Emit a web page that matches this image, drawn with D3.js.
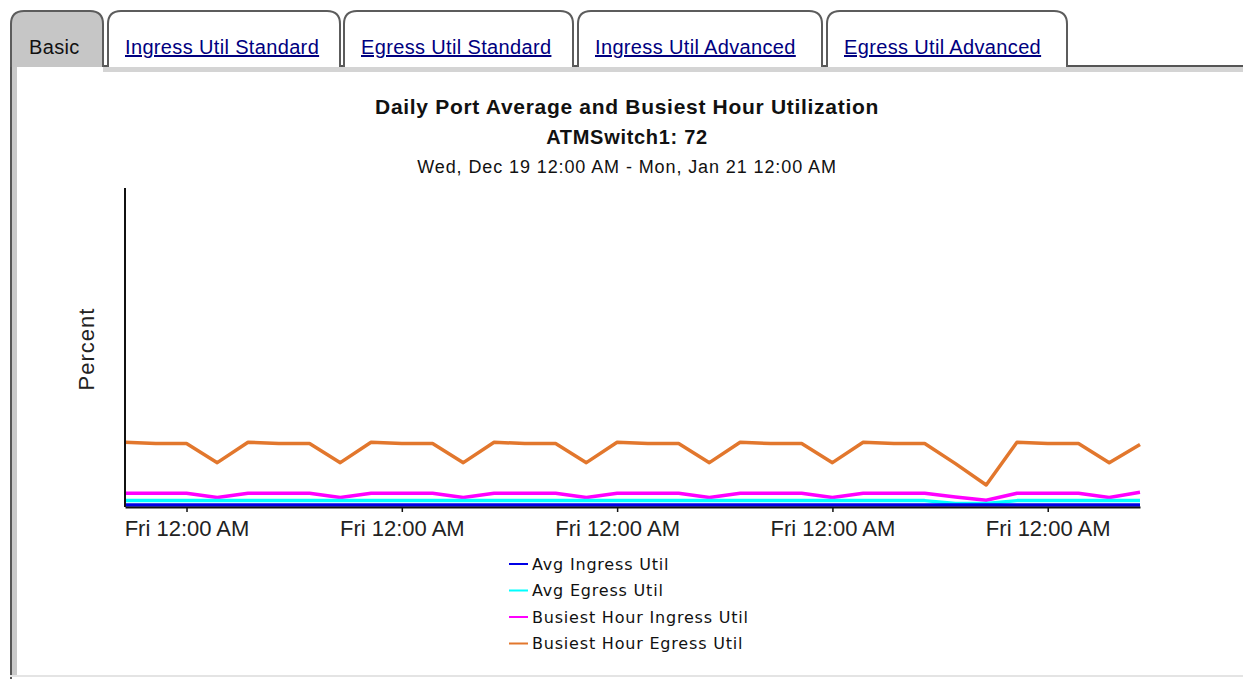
<!DOCTYPE html>
<html>
<head>
<meta charset="utf-8">
<script src="https://cdn.jsdelivr.net/npm/d3@7/dist/d3.min.js"></script>
<style>
  body { margin: 0; background: #fff; }
</style>
</head>
<body>
<svg id="chart" width="1243" height="679"></svg>
<script>

// ---- data ----
var tabNames = ["Basic", "Ingress Util Standard", "Egress Util Standard",
                "Ingress Util Advanced", "Egress Util Advanced"];

var days = ["2018-12-19","2018-12-20","2018-12-21","2018-12-22","2018-12-23",
            "2018-12-24","2018-12-25","2018-12-26","2018-12-27","2018-12-28",
            "2018-12-29","2018-12-30","2018-12-31","2019-01-01","2019-01-02",
            "2019-01-03","2019-01-04","2019-01-05","2019-01-06","2019-01-07",
            "2019-01-08","2019-01-09","2019-01-10","2019-01-11","2019-01-12",
            "2019-01-13","2019-01-14","2019-01-15","2019-01-16","2019-01-17",
            "2019-01-18","2019-01-19","2019-01-20","2019-01-21"];

var avgIngress = [0.06,0.06,0.06,0.06,0.06,0.06,0.06,0.06,0.06,0.06,
                  0.06,0.06,0.06,0.06,0.06,0.06,0.06,0.06,0.06,0.06,
                  0.06,0.06,0.06,0.06,0.06,0.06,0.06,0.06,0.06,0.06,
                  0.06,0.06,0.06,0.06];

var avgEgress = [0.20,0.20,0.20,0.20,0.20,0.20,0.20,0.20,0.20,0.20,
                 0.20,0.20,0.20,0.20,0.20,0.20,0.20,0.20,0.20,0.20,
                 0.20,0.20,0.20,0.20,0.20,0.20,0.20,0.11,0.11,0.20,
                 0.20,0.20,0.20,0.20];

var busyIngress = [0.43,0.43,0.43,0.30,0.43,0.43,0.43,0.30,0.43,0.43,
                   0.43,0.30,0.43,0.43,0.43,0.30,0.43,0.43,0.43,0.30,
                   0.43,0.43,0.43,0.30,0.43,0.43,0.43,0.31,0.21,0.43,
                   0.43,0.43,0.30,0.46];

var busyEgress = [2.03,1.99,1.99,1.39,2.03,1.99,1.99,1.39,2.03,1.99,
                  1.99,1.39,2.03,1.99,1.99,1.39,2.03,1.99,1.99,1.39,
                  2.03,1.99,1.99,1.39,2.03,1.99,1.99,1.36,0.69,2.03,
                  1.99,1.99,1.39,1.96];

var seriesNames = ["Avg Ingress Util", "Avg Egress Util",
                   "Busiest Hour Ingress Util", "Busiest Hour Egress Util"];

/////
// frame and tabs
/////

var svg = d3.select("#chart"),
    width = +svg.attr("width"),
    height = +svg.attr("height");

var tabTop = 11, tabBottom = 67, tabR = 13;
var tabX = [[10, 103], [107, 340], [343, 573], [577, 822], [826, 1067]];

function tabPath(x0, x1) {
  return "M" + x0 + "," + tabBottom +
         " V" + (tabTop + tabR) +
         " Q" + x0 + "," + tabTop + " " + (x0 + tabR) + "," + tabTop +
         " H" + (x1 - tabR) +
         " Q" + x1 + "," + tabTop + " " + x1 + "," + (tabTop + tabR) +
         " V" + tabBottom;
}

// panel: grey band on the left and along the top
svg.append("rect")
    .attr("x", 10).attr("y", tabBottom - 1)
    .attr("width", 7).attr("height", height - tabBottom - 1)
    .attr("fill", "#c9c9c9");
svg.append("rect")
    .attr("x", 103).attr("y", tabBottom - 1)
    .attr("width", width - 103).attr("height", 6)
    .attr("fill", "#d4d4d4");
svg.append("line")
    .attr("x1", 103).attr("x2", width)
    .attr("y1", tabBottom - 1).attr("y2", tabBottom - 1)
    .attr("stroke", "#555").attr("stroke-width", 2);
svg.append("line")
    .attr("x1", 11).attr("x2", 11)
    .attr("y1", tabBottom - 2).attr("y2", height)
    .attr("stroke", "#555").attr("stroke-width", 2);
svg.append("line")
    .attr("x1", 10).attr("x2", width)
    .attr("y1", height - 3).attr("y2", height - 3)
    .attr("stroke", "#e4e4e4").attr("stroke-width", 2);

var tabs = svg.append("g").selectAll("g")
    .data(tabNames)
  .enter().append("g");

tabs.append("path")
    .attr("d", function(d, i) { return tabPath(tabX[i][0] + 1, tabX[i][1]); })
    .attr("fill", function(d, i) { return i === 0 ? "#c6c6c6" : "#fff"; })
    .attr("stroke", "#5c5c5c")
    .attr("stroke-width", 2);

tabs.append("text")
    .attr("x", function(d, i) { return i === 0 ? 29 : tabX[i][0] + 18; })
    .attr("y", 54)
    .attr("font-family", "Liberation Sans, Arial, sans-serif")
    .attr("font-size", "20px")
    .attr("letter-spacing", "0.35px")
    .attr("fill", function(d, i) { return i === 0 ? "#111" : "#000080"; })
    .attr("text-decoration", function(d, i) { return i === 0 ? "none" : "underline"; })
    .text(function(d) { return d; });

/////
// titles
/////

var cx = 627;
svg.append("text")
    .attr("x", cx).attr("y", 114)
    .attr("text-anchor", "middle")
    .attr("font-family", "Liberation Sans, Arial, sans-serif")
    .attr("font-size", "21px").attr("font-weight", "bold")
    .attr("letter-spacing", "0.7px")
    .attr("fill", "#111")
    .text("Daily Port Average and Busiest Hour Utilization");
svg.append("text")
    .attr("x", cx).attr("y", 144)
    .attr("text-anchor", "middle")
    .attr("font-family", "Liberation Sans, Arial, sans-serif")
    .attr("font-size", "20px").attr("font-weight", "bold")
    .attr("letter-spacing", "0.7px")
    .attr("fill", "#111")
    .text("ATMSwitch1: 72");
svg.append("text")
    .attr("x", cx).attr("y", 173)
    .attr("text-anchor", "middle")
    .attr("font-family", "Liberation Sans, Arial, sans-serif")
    .attr("font-size", "18px")
    .attr("letter-spacing", "0.9px")
    .attr("fill", "#111")
    .text("Wed, Dec 19 12:00 AM - Mon, Jan 21 12:00 AM");

/////
// plot
/////

var plot = {left: 125, right: 1140, top: 188, bottom: 507};
var parse = d3.timeParse("%Y-%m-%d");
var dates = days.map(parse);

var x = d3.scaleTime()
    .domain(d3.extent(dates))
    .range([plot.left, plot.right]);

var y = d3.scaleLinear()
    .domain([0, 10])
    .range([plot.bottom, plot.top]);

var series = [
  {name: seriesNames[0], values: avgIngress, color: "#0000e6"},
  {name: seriesNames[1], values: avgEgress, color: "#00ffff"},
  {name: seriesNames[2], values: busyIngress, color: "#ff00ff"},
  {name: seriesNames[3], values: busyEgress, color: "#e2772d"}
];

var line = d3.line()
    .x(function(d, i) { return x(dates[i]); })
    .y(function(d) { return y(d); });

// draw the big ones first so the thin average lines sit on top
svg.append("g").selectAll("path")
    .data(series.slice().reverse())
  .enter().append("path")
    .attr("d", function(s) { return line(s.values); })
    .attr("fill", "none")
    .attr("stroke", function(s) { return s.color; })
    .attr("stroke-width", 3.5)
    .attr("stroke-linejoin", "round");

// x axis, ticks on Fridays
var xAxis = d3.axisBottom(x)
    .tickValues(d3.timeFriday.range(dates[0], dates[dates.length - 1]))
    .tickFormat(d3.timeFormat("%a %I:%M %p"))
    .tickSize(5)
    .tickSizeOuter(0)
    .tickPadding(8);

var gx = svg.append("g")
    .attr("transform", "translate(0," + plot.bottom + ")")
    .call(xAxis);
gx.select(".domain").attr("stroke", "#111").attr("stroke-width", 2);
gx.selectAll(".tick line").attr("stroke", "#111").attr("stroke-width", 1.5);
gx.selectAll(".tick text")
    .attr("font-family", "Liberation Sans, Arial, sans-serif")
    .attr("font-size", "22px")
    .attr("fill", "#222");

// y axis is just the line, no ticks
svg.append("line")
    .attr("x1", plot.left).attr("x2", plot.left)
    .attr("y1", plot.top).attr("y2", plot.bottom)
    .attr("stroke", "#111").attr("stroke-width", 2);

svg.append("text")
    .attr("transform", "translate(94,349) rotate(-90)")
    .attr("text-anchor", "middle")
    .attr("font-family", "Liberation Sans, Arial, sans-serif")
    .attr("font-size", "22px")
    .attr("letter-spacing", "1px")
    .attr("fill", "#222")
    .text("Percent");

/////
// legend
/////

var legend = svg.append("g")
    .attr("transform", "translate(509,564)")
  .selectAll("g")
    .data(series)
  .enter().append("g")
    .attr("transform", function(d, i) { return "translate(0," + (i * 26.5) + ")"; });

legend.append("line")
    .attr("x1", 0).attr("x2", 19)
    .attr("stroke", function(d) { return d.color; })
    .attr("stroke-width", 2);

legend.append("text")
    .attr("x", 23)
    .attr("dy", "0.35em")
    .attr("font-family", "DejaVu Sans, Verdana, sans-serif")
    .attr("font-size", "16px")
    .attr("letter-spacing", "0.8px")
    .attr("fill", "#111")
    .text(function(d) { return d.name; });

</script>
</body>
</html>
